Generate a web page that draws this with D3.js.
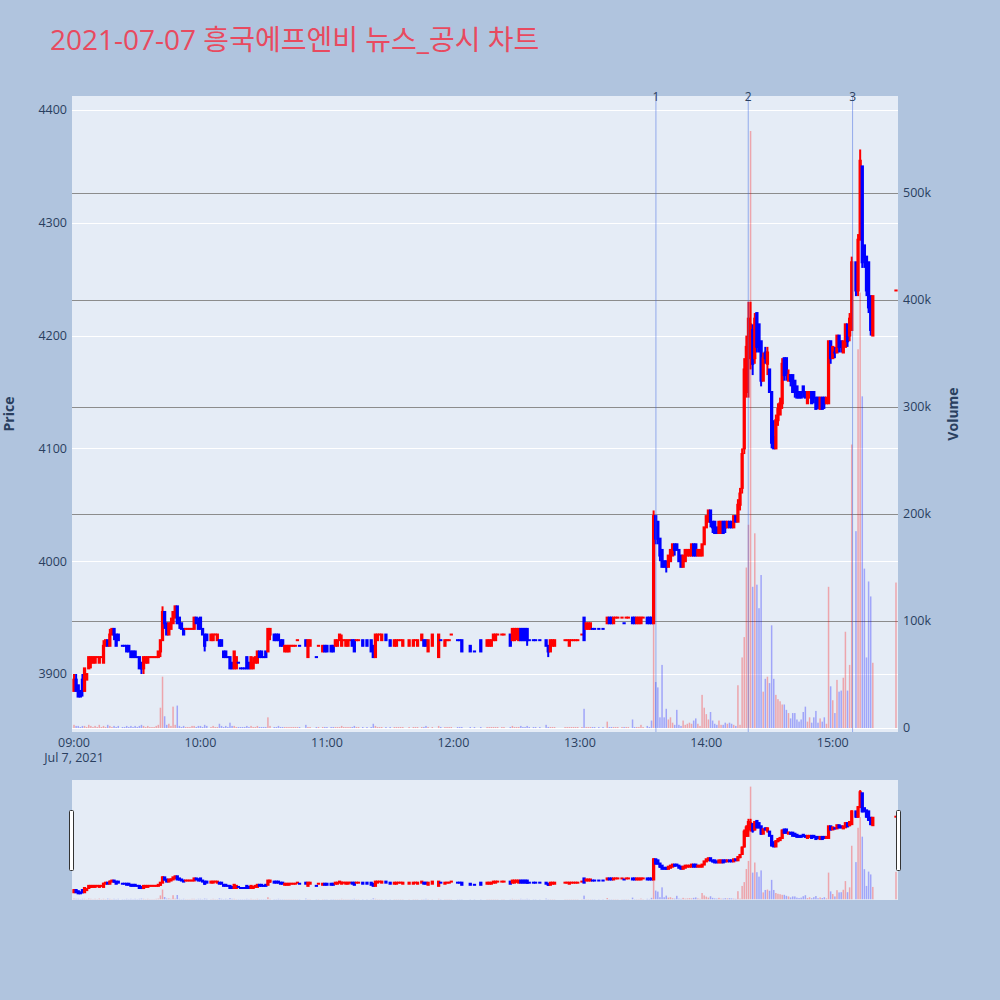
<!DOCTYPE html>
<html><head><meta charset="utf-8">
<script src="https://cdn.jsdelivr.net/npm/d3@7"></script>
<style>body{margin:0;background:#B0C4DE;}svg{display:block}</style>
</head><body><svg id="c" width="1000" height="1000"></svg>
<script>
// one entry per minute from 09:00 (index = minutes after 09:00), null = no trade
const opens = [
3885,3895,3890,3885,3895,3885,3895,3905,3910,3910,
3910,3915,3910,3915,3910,3925,3930,3925,3935,3940,
3935,3935,null,3925,3925,3925,3925,3920,3920,3920,
3915,3915,3910,3905,3910,3910,3915,3915,3915,3915,
3915,3920,3930,3955,3945,3935,3940,3945,3950,3960,
3950,3945,3940,3940,3940,3940,3940,3940,3950,3945,
3950,3940,3935,3935,null,3930,3930,3935,3930,3930,
3930,3920,3920,3915,3915,3910,3905,3905,3910,3905,
3905,3905,3915,3910,3905,3905,3910,3910,3920,3920,
3915,3920,3920,3935,null,3935,3935,3935,3930,3930,
3920,3920,3920,3925,3925,3925,3930,3925,null,null,
3930,3915,3925,null,null,3915,3925,null,3920,3925,
3925,null,3925,3925,3925,3925,3930,3925,3930,3925,
3925,3930,3930,3930,3930,3930,null,3930,null,3930,
null,3930,3925,3915,3930,3935,3930,null,3935,null,
3930,null,3925,3925,3930,3930,3925,null,null,3925,
null,3925,3930,3925,null,3930,3930,3930,3920,null,
3925,null,null,3915,3930,null,3925,3930,3930,3935,
null,null,3930,3930,3930,null,null,null,3925,null,
3920,null,null,3930,null,null,3925,3925,3925,3930,
3930,3935,null,3935,3935,null,null,3935,3930,3930,
3935,3930,3940,3940,3940,3940,3930,null,3930,3930,
null,3930,null,null,3930,3925,3920,3925,3925,null,
null,null,null,3930,3930,3925,3930,3930,3930,3930,
null,3935,3950,3940,3940,3940,3940,3940,null,3940,
null,3940,null,3945,3950,3950,3945,3950,3950,null,
3950,3945,3950,3950,null,3950,3950,3945,3945,3945,
3950,null,3950,3950,3950,3945,4040,4035,4020,4010,
4000,4000,3995,4000,4005,4015,4015,4010,4005,3995,
4000,4005,4005,4005,4015,4015,4005,4005,4005,4015,
4030,4035,4045,4035,4035,4030,4025,4025,4035,4035,
4030,4035,4035,4030,4040,4035,4050,4065,4100,4150,
4180,4200,4205,4180,4220,4210,4195,4160,4185,4175,
4170,4150,4110,4100,4125,4130,4140,4180,4180,4160,
4165,4165,4160,4155,4150,4150,4155,4150,4140,4145,
4150,4150,4145,4145,4135,4145,4145,4140,4140,4195,
4180,4185,4185,4200,4195,4185,4190,4210,4200,4205,
null,4265,4240,4285,4350,4280,4270,4265,4235,4200,
null,null,null,null,null,null,null,null,null,null,
4240];
const highs = [
3900,3900,3890,3885,3900,3905,3900,3915,3915,3915,
3915,3915,3915,3915,3930,3930,3930,3940,3940,3940,
3935,3935,null,3925,3925,3925,3925,3920,3920,3920,
3915,3915,3910,3915,3915,3915,3915,3915,3915,3915,
3920,3930,3960,3955,3945,3945,3950,3955,3960,3960,
3950,3945,3940,3940,3940,3940,3940,3950,3950,3950,
3950,3940,3935,3935,null,3935,3935,3935,3935,3930,
3930,3920,3920,3915,3915,3910,3920,3915,3910,3905,
3905,3905,3915,3910,3915,3915,3915,3920,3920,3920,
3915,3920,3940,3940,null,3935,3935,3935,3930,3930,
3925,3925,3925,3925,3925,3925,3930,3925,null,null,
3930,3930,3930,null,null,3915,3925,null,3925,3925,
3925,null,3925,3925,3930,3930,3935,3935,3930,3930,
3930,3930,3930,3930,3930,3930,null,3930,null,3930,
null,3930,3925,3935,3935,3935,3935,null,3935,null,
3930,null,3930,3930,3930,3930,3930,null,null,3930,
null,3930,3930,3930,null,3935,3930,3930,3930,null,
3935,null,null,3935,3930,null,3930,3930,3930,3935,
null,null,3930,3930,3930,null,null,null,3925,null,
3920,null,null,3930,null,null,3930,3930,3930,3935,
3935,3935,null,3935,3935,null,null,3935,3940,3940,
3940,3940,3940,3940,3940,3940,3930,null,3930,3930,
null,3930,null,null,3930,3925,3930,3930,3930,null,
null,null,null,3930,3930,3930,3930,3930,3930,3930,
null,3935,3950,3945,3945,3945,3940,3940,null,3940,
null,3940,null,3950,3950,3950,3950,3950,3950,null,
3950,3945,3950,3950,null,3950,3950,3950,3950,3950,
3950,null,3950,3950,3950,4045,4040,4035,4020,4010,
4000,4000,4005,4010,4015,4015,4015,4010,4005,4005,
4010,4010,4010,4015,4015,4015,4010,4010,4015,4030,
4040,4045,4045,4035,4035,4030,4035,4035,4035,4035,
4035,4035,4035,4040,4040,4055,4065,4100,4180,4200,
4230,4230,4210,4220,4220,4210,4195,4185,4190,4190,
4170,4150,4125,4130,4140,4145,4180,4180,4180,4170,
4165,4165,4160,4155,4150,4150,4155,4150,4150,4150,
4150,4150,4145,4145,4145,4145,4145,4145,4195,4195,
4190,4190,4200,4200,4195,4195,4210,4210,4220,4270,
null,4265,4290,4365,4350,4280,4270,4265,4235,4235,
null,null,null,null,null,null,null,null,null,null,
4240];
const lows = [
3885,3885,3880,3880,3880,3885,3895,3905,3905,3910,
3910,3915,3910,3915,3910,3925,3925,3925,3935,3930,
3925,3930,null,3925,3925,3920,3920,3915,3915,3915,
3915,3905,3900,3900,3910,3910,3915,3915,3915,3915,
3915,3915,3930,3940,3935,3935,3940,3945,3950,3945,
3940,3940,3935,3940,3940,3940,3940,3940,3945,3940,
3940,3935,3920,3930,null,3930,3930,3935,3930,3925,
3925,3915,3915,3915,3905,3905,3905,3905,3910,3905,
3905,3905,3905,3905,3905,3905,3910,3910,3915,3915,
3915,3915,3920,3930,null,3930,3930,3930,3925,3925,
3920,3920,3920,3925,3925,3925,3930,3925,null,null,
3925,3915,3925,null,null,3915,3925,null,3920,3920,
3920,null,3920,3920,3925,3925,3930,3925,3930,3925,
3925,3930,3925,3920,3930,3930,null,3925,null,3925,
null,3920,3915,3915,3930,3935,3930,null,3930,null,
3925,null,3925,3925,3930,3930,3925,null,null,3925,
null,3925,3930,3925,null,3930,3925,3925,3920,null,
3925,null,null,3915,3930,null,3925,3930,3930,3935,
null,null,3930,3930,3920,null,null,null,3920,null,
3920,null,null,3920,null,null,3925,3925,3925,3930,
3930,3935,null,3935,3935,null,null,3925,3930,3930,
3930,3930,3930,3930,3930,3925,3930,null,3930,3930,
null,3930,null,null,3925,3915,3920,3925,3925,null,
null,null,null,3930,3930,3925,3930,3930,3930,3930,
null,3935,3930,3940,3940,3940,3940,3940,null,3940,
null,3940,null,3945,3945,3945,3945,3950,3950,null,
3950,3945,3950,3950,null,3945,3945,3945,3945,3945,
3950,null,3945,3945,3945,3945,4015,4015,4000,3995,
3995,3990,3995,4000,4005,4005,4010,4000,3995,3995,
4000,4005,4005,4005,4005,4005,4005,4005,4005,4015,
4030,4035,4030,4025,4025,4025,4025,4025,4025,4025,
4030,4030,4030,4030,4035,4035,4045,4060,4095,4145,
4145,4170,4165,4175,4185,4185,4155,4160,4175,4165,
4150,4100,4100,4100,4120,4130,4135,4160,4160,4160,
4155,4150,4145,4145,4145,4145,4145,4145,4140,4145,
4140,4140,4135,4135,4135,4135,4135,4140,4140,4175,
4180,4180,4185,4185,4185,4185,4190,4190,4195,4205,
null,4235,4235,4285,4260,4260,4235,4220,4200,4200,
null,null,null,null,null,null,null,null,null,null,
4240];
const closes = [
3895,3885,3880,3880,3885,3905,3900,3915,3915,3915,
3915,3915,3915,3915,3925,3930,3925,3935,3940,3935,
3925,3930,null,3925,3925,3920,3920,3915,3915,3915,
3915,3905,3905,3915,3915,3915,3915,3915,3915,3915,
3920,3930,3955,3945,3935,3945,3945,3955,3960,3945,
3945,3940,3935,3940,3940,3940,3940,3950,3945,3940,
3940,3935,3925,3930,null,3935,3935,3935,3935,3925,
3925,3915,3915,3915,3905,3905,3920,3915,3910,3905,
3905,3905,3905,3905,3915,3910,3915,3920,3915,3915,
3915,3915,3940,3940,null,3930,3930,3930,3925,3925,
3925,3925,3925,3925,3925,3925,3930,3925,null,null,
3925,3930,3930,null,null,3915,3925,null,3925,3920,
3920,null,3920,3920,3930,3930,3935,3930,3930,3930,
3930,3930,3925,3920,3930,3930,null,3925,null,3925,
null,3920,3915,3935,3935,3935,3935,null,3930,null,
3925,null,3930,3930,3930,3930,3930,null,null,3930,
null,3930,3930,3930,null,3935,3925,3925,3930,null,
3935,null,null,3935,3930,null,3930,3930,3930,3935,
null,null,3930,3930,3920,null,null,null,3920,null,
3920,null,null,3920,null,null,3930,3930,3930,3935,
3935,3935,null,3935,3935,null,null,3925,3940,3940,
3940,3940,3930,3930,3930,3930,3930,null,3930,3930,
null,3930,null,null,3925,3920,3930,3930,3930,null,
null,null,null,3930,3930,3930,3930,3930,3930,3930,
null,3935,3930,3945,3945,3945,3940,3940,null,3940,
null,3940,null,3950,3945,3945,3950,3950,3950,null,
3950,3945,3950,3950,null,3945,3945,3950,3950,3950,
3950,null,3945,3945,3945,4040,4020,4020,4005,3995,
3995,3995,4005,4010,4015,4010,4010,4000,3995,4005,
4010,4010,4010,4015,4005,4005,4010,4010,4015,4030,
4040,4045,4035,4030,4025,4025,4035,4035,4025,4030,
4035,4030,4030,4040,4035,4050,4060,4095,4170,4190,
4215,4210,4175,4215,4190,4190,4160,4180,4180,4185,
4150,4105,4100,4125,4135,4140,4175,4165,4165,4165,
4160,4150,4150,4145,4145,4145,4150,4145,4150,4150,
4140,4145,4135,4140,4145,4135,4140,4145,4195,4180,
4190,4185,4200,4190,4190,4195,4210,4195,4215,4265,
null,4240,4285,4355,4265,4270,4240,4225,4205,4235,
null,null,null,null,null,null,null,null,null,null,
4240];
// volume in thousands of shares
const volumesK = [
3,2,2,1,2,2,1,3,2,1,
2,1,3,1,2,1,3,2,1,2,
1,2,null,1,1,2,1,2,1,2,
1,2,3,2,1,2,1,1,1,2,
3,19,48,11,3,4,2,20,3,21,
2,1,2,1,1,1,2,2,1,2,
2,1,3,2,null,1,2,1,1,4,
2,1,2,1,5,2,2,1,1,1,
1,1,2,1,2,1,1,2,1,1,
1,1,10,2,null,1,1,2,1,1,
1,1,1,1,1,1,1,1,null,null,
3,1,1,null,null,1,1,null,1,1,
1,null,1,1,1,1,1,2,1,1,
1,1,1,2,1,1,null,1,null,1,
null,1,4,2,1,1,1,null,1,null,
1,null,1,1,1,1,1,null,null,1,
null,1,1,1,null,1,1,2,1,null,
1,null,null,2,1,null,1,1,1,1,
null,null,1,1,1,null,null,null,1,null,
1,null,null,1,null,null,1,1,1,1,
1,1,null,1,1,null,null,1,2,1,
1,1,2,1,1,2,1,null,1,1,
null,1,null,null,3,1,1,1,1,null,
null,null,null,1,1,1,1,1,1,1,
null,1,18,1,1,1,1,1,null,1,
null,1,null,6,1,1,1,1,1,null,
1,1,1,1,null,8,1,1,1,3,
1,null,2,1,7,98,43,38,10,59,
10,18,8,10,5,3,17,3,2,7,
3,4,5,4,7,9,4,2,31,19,
13,8,15,7,4,3,7,3,3,5,
4,5,4,3,2,40,3,66,85,150,
190,558,132,182,134,112,143,34,46,48,
42,96,46,31,27,25,22,22,17,14,
9,14,14,8,6,8,15,20,6,10,
5,10,16,5,9,6,10,4,132,39,
26,14,45,34,35,47,90,35,59,265,
null,184,354,407,310,149,66,137,123,61,
null,null,null,null,null,null,null,null,null,null,
136];
const priceTicks = [3900, 4000, 4100, 4200, 4300, 4400];
const volumeTicks = [0, 100000, 200000, 300000, 400000, 500000];
const hourTicks = ["09:00","10:00","11:00","12:00","13:00","14:00","15:00"];
const eventLabels = ["1", "2", "3"];
const eventTimes = ["13:36:06", "14:19:54", "15:09:24"];
const titleText = "2021-07-07 흥국에프엔비 뉴스_공시 차트";
const dateLabel = "Jul 7, 2021";

const svg = d3.select("#c");
const FONT = "'Open Sans', 'Noto Sans CJK KR', sans-serif";
const L = 72, R = 898, T = 96, B = 732;
const ST = 780, SB = 900;
const base = new Date(2021, 6, 7, 9, 0, 0);
const tm = m => new Date(base.getTime() + m * 60000);
const parseT = d3.timeParse("%Y-%m-%d %H:%M:%S");
const x = d3.scaleTime().domain([tm(-0.95), tm(390.95)]).range([L, R]);
const yP = d3.scaleLinear().domain([3848.6, 4412.4]).range([B, T]);
const yV = d3.scaleLinear().domain([-3700, 590700]).range([B, T]);
const yP2 = d3.scaleLinear().domain(yP.domain()).range([SB, ST]);
const yV2 = d3.scaleLinear().domain(yV.domain()).range([SB, ST]);

// build candles (plotly direction rule for open == close)
const candles = [];
let inc = true, cPrev = null;
for (let i = 0; i < closes.length; i++) {
  if (closes[i] == null) continue;
  const o = opens[i], c = closes[i];
  if (c > o) inc = true;
  else if (c < o) inc = false;
  else if (cPrev !== null && c !== cPrev) inc = c > cPrev;
  cPrev = c;
  candles.push({t: tm(i), o, h: highs[i], l: lows[i], c, v: volumesK[i] * 1000, inc});
}
const UP = "#FF0000", DN = "#0000FF";

svg.append("rect").attr("width", 1000).attr("height", 1000).attr("fill", "#B0C4DE");
svg.append("rect").attr("x", L).attr("y", T).attr("width", R - L).attr("height", B - T).attr("fill", "#E5ECF6");

// gridlines
const g = svg.append("g");
priceTicks.forEach(v => g.append("line").attr("x1", L).attr("x2", R)
  .attr("y1", Math.round(yP(v)) + 0.5).attr("y2", Math.round(yP(v)) + 0.5)
  .attr("stroke", "#fff").attr("stroke-width", 1));
volumeTicks.forEach(v => g.append("line").attr("x1", L).attr("x2", R)
  .attr("y1", Math.round(yV(v)) + 0.5).attr("y2", Math.round(yV(v)) + 0.5)
  .attr("stroke", v === 0 ? "#fff" : "#8c8c8c").attr("stroke-width", 1));

svg.append("defs").append("clipPath").attr("id", "pc").append("rect")
  .attr("x", L).attr("y", T).attr("width", R - L).attr("height", B - T);

const pxMin = x(tm(1)) - x(tm(0));
const hw = 0.3 * pxMin;
function drawCandles(sel, ys) {
  sel.selectAll("g.cd").data(candles).join("g").attr("class", "cd").each(function(d) {
    const gg = d3.select(this);
    const cx = x(d.t), col = d.inc ? UP : DN;
    const top = Math.min(ys(d.o), ys(d.c)), bot = Math.max(ys(d.o), ys(d.c));
    gg.append("rect").attr("x", cx - 1).attr("width", 2)
      .attr("y", ys(d.h)).attr("height", Math.max(0, ys(d.l) - ys(d.h))).attr("fill", col);
    gg.append("rect").attr("x", cx - hw - 1).attr("width", 2 * hw + 2)
      .attr("y", top - 1).attr("height", bot - top + 2).attr("fill", col);
  });
}
function drawVolume(sel, ys, w) {
  sel.selectAll("rect.vb").data(candles).join("rect").attr("class", "vb")
    .attr("x", d => x(d.t) - w / 2).attr("width", w)
    .attr("y", d => ys(d.v)).attr("height", d => ys(0) - ys(d.v))
    .attr("fill", d => d.inc ? UP : DN).attr("fill-opacity", 0.3);
}
const main = svg.append("g").attr("clip-path", "url(#pc)");
drawCandles(main.append("g"), yP);
drawVolume(main.append("g"), yV, 1.5);

// event lines
eventTimes.forEach((s, i) => {
  const ex = x(parseT("2021-07-07 " + s));
  svg.append("line").attr("x1", ex).attr("x2", ex).attr("y1", T).attr("y2", B)
    .attr("stroke", "royalblue").attr("stroke-opacity", 0.5).attr("stroke-width", 1);
  svg.append("text").attr("x", ex).attr("y", 101).attr("text-anchor", "middle")
    .attr("font-family", FONT).attr("font-size", 12).attr("fill", "#2a3f5f").text(eventLabels[i]);
});

// axes labels
const txt = (xx, yy, s, anchor, size, extra) => {
  const t = svg.append("text").attr("x", xx).attr("y", yy).attr("text-anchor", anchor)
    .attr("font-family", FONT).attr("font-size", size).attr("fill", "#2a3f5f").text(s);
  if (extra) extra(t);
  return t;
};
priceTicks.forEach(v => txt(67, yP(v), String(v), "end", 12.5, t => t.attr("dy", "0.35em")));
const vf = d3.format("~s");
volumeTicks.forEach(v => txt(903, yV(v), v === 0 ? "0" : vf(v), "start", 12.5, t => t.attr("dy", "0.35em")));
hourTicks.forEach(h => txt(x(parseT("2021-07-07 " + h + ":00")), 747, h, "middle", 12.5));
txt(x(tm(0)), 762, dateLabel, "middle", 12.5);
txt(0, 0, "Price", "middle", 14, t => t.attr("font-weight", "bold").attr("transform", `translate(14,${(T + B) / 2}) rotate(-90)`));
txt(0, 0, "Volume", "middle", 14, t => t.attr("font-weight", "bold").attr("transform", `translate(958,${(T + B) / 2}) rotate(-90)`));

// title
svg.append("text").attr("x", 50).attr("y", 50).attr("font-family", FONT)
  .attr("font-size", 28).attr("fill", "#e84a5f").text(titleText);

// range slider
svg.append("rect").attr("x", L).attr("y", ST).attr("width", R - L).attr("height", SB - ST).attr("fill", "#E5ECF6");
svg.append("defs").append("clipPath").attr("id", "sc").append("rect")
  .attr("x", L).attr("y", ST).attr("width", R - L).attr("height", SB - ST);
const mini = svg.append("g").attr("clip-path", "url(#sc)");
drawCandles(mini.append("g"), yP2);
drawVolume(mini.append("g"), yV2, 1.5);
[L - 3, R - 2].forEach(hx => svg.append("rect").attr("x", hx + 0.5).attr("y", 810.5).attr("width", 4).attr("height", 60)
  .attr("rx", 1).attr("fill", "#fff").attr("stroke", "#333").attr("stroke-width", 1));
</script></body></html>
